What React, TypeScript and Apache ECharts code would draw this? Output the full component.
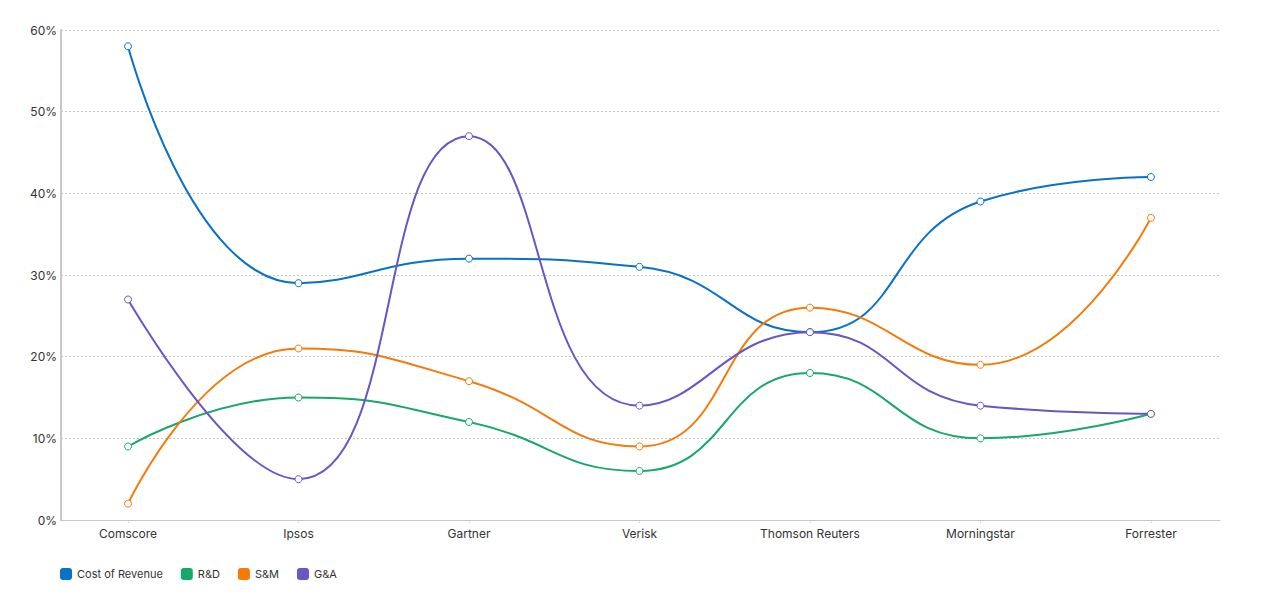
import React, { useEffect, useRef } from "react";
import * as echarts from "echarts";

const categories = ["Comscore", "Ipsos", "Gartner", "Verisk", "Thomson Reuters", "Morningstar", "Forrester"];
const costOfRevenue = [58, 29, 32, 31, 23, 39, 42];
const rnd = [9, 15, 12, 6, 18, 10, 13];
const snm = [2, 21, 17, 9, 26, 19, 37];
const gna = [27, 5, 47, 14, 23, 14, 13];
const yTicks = [0, 10, 20, 30, 40, 50, 60];

const seriesDefs = [
  { name: "Cost of Revenue", data: costOfRevenue, color: "#0a72c4" },
  { name: "R&D", data: rnd, color: "#17a86b" },
  { name: "S&M", data: snm, color: "#f47b0a" },
  { name: "G&A", data: gna, color: "#6a55c4" },
];

export default function App() {
  const ref = useRef<HTMLDivElement>(null);
  useEffect(() => {
    if (!ref.current) return;
    const chart = echarts.init(ref.current, null, { renderer: "svg" });
    const idx = categories.map((_, i) => i);
    chart.setOption({
      animation: false,
      textStyle: { fontFamily: "Inter" },
      grid: { left: 53, right: 52, top: 22, bottom: 72, containLabel: false },
      legend: {
        left: 47,
        top: 555,
        icon: "roundRect",
        itemWidth: 12,
        itemHeight: 12,
        itemGap: 18,
        textStyle: { fontSize: 11, color: "#333", fontFamily: "Inter" },
        data: seriesDefs.map((s) => ({
          name: s.name,
          itemStyle: { color: s.color, borderWidth: 0 },
        })),
      },
      xAxis: {
        type: "value",
        min: -0.393,
        max: 6.405,
        splitLine: { show: false },
        axisLine: { show: true, onZero: false, lineStyle: { color: "#c8c8c8", width: 1 } },
        axisTick: {
          show: true,
          customValues: idx,
          length: 4,
          lineStyle: { color: "#bbb", type: "dotted" },
        },
        axisLabel: {
          customValues: idx,
          formatter: (v: number) => categories[Math.round(v)] ?? "",
          color: "#333",
          fontSize: 12,
          margin: 7,
          fontFamily: "Inter",
        },
      },
      yAxis: {
        type: "value",
        min: 0,
        max: 60,
        interval: 10,
        axisLine: { show: true, onZero: false, lineStyle: { color: "#c8c8c8", width: 2 } },
        axisTick: { show: false },
        axisLabel: {
          formatter: (v: number) => (yTicks.includes(v) ? v + "%" : ""),
          color: "#333",
          fontSize: 12,
          margin: 4,
          fontFamily: "Inter",
        },
        splitLine: { show: true, lineStyle: { color: "#c4c4c4", type: [2, 2] } },
      },
      series: seriesDefs.map((s) => ({
        name: s.name,
        type: "line",
        smooth: 0.5,
        data: s.data.map((v, i) => [i, v]),
        color: s.color,
        symbol: "circle",
        symbolSize: 7,
        showSymbol: true,
        itemStyle: { color: "#fff", borderColor: s.color, borderWidth: 1 },
        lineStyle: { color: s.color, width: 2 },
      })),
    });
    return () => chart.dispose();
  }, []);
  return <div ref={ref} style={{ width: 1264, height: 584 }} />;
}
